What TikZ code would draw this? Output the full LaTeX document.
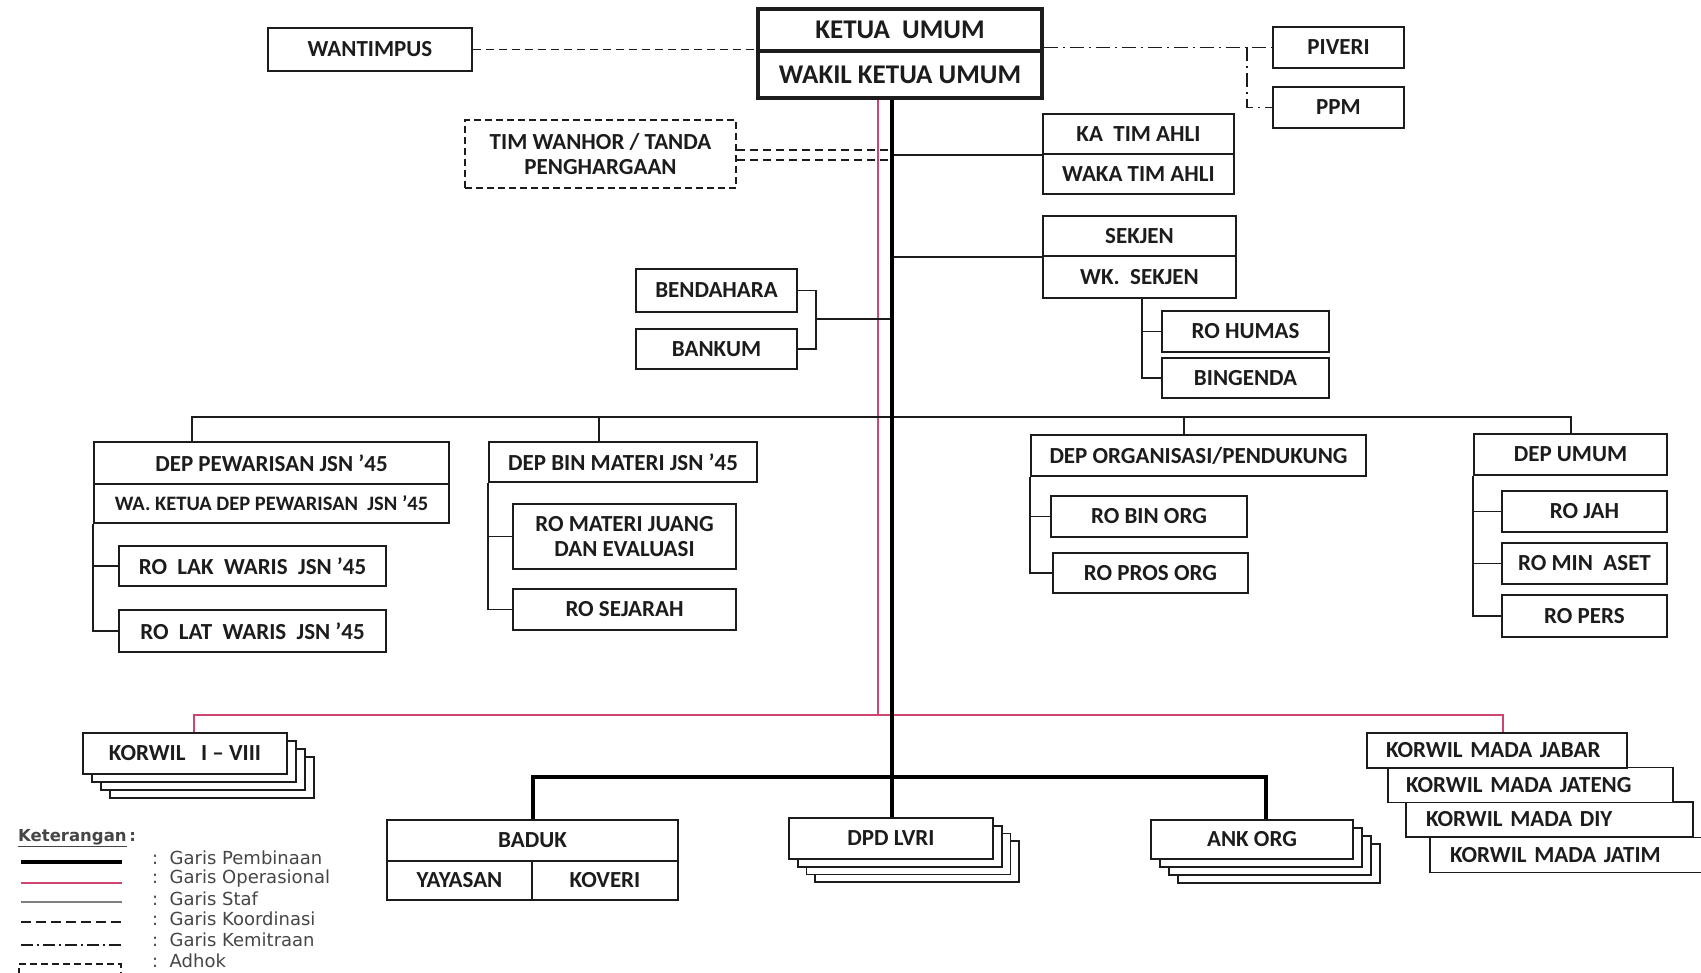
\documentclass[tikz,border=0pt]{standalone}
\usepackage{fontspec}
\setmainfont{Carlito}
\newfontfamily\legendfont{DejaVu Sans}
\usetikzlibrary{calc}
\definecolor{opred}{RGB}{205,70,110}
\definecolor{ink}{RGB}{28,28,28}
\definecolor{legtext}{RGB}{70,70,70}
\begin{document}
\begin{tikzpicture}[x=1pt,y=-1pt,
  box/.style={draw=ink, line width=1.7pt, fill=white, inner sep=0pt, align=center, text=ink,
    font=\bfseries\fontsize{23}{25}\selectfont},
  big/.style={line width=3.4pt, font=\bfseries\fontsize{27}{29}\selectfont},
  small/.style={font=\bfseries\fontsize{20.5}{23}\selectfont},
  sz/.style 2 args={minimum width=#1, minimum height=#2},
  adhok/.style={dash pattern=on 7pt off 4pt},
  staf/.style={draw=ink, line width=1.8pt},
  pemb/.style={draw=black, line width=4.6pt},
  oper/.style={draw=opred, line width=1.9pt},
  koord/.style={draw=ink, line width=1.6pt, dash pattern=on 8pt off 5pt},
  kemit/.style={draw=ink, line width=1.6pt, dash pattern=on 14pt off 5pt on 2pt off 5pt},
  legtxt/.style={anchor=west, inner sep=0pt, text=legtext, font=\legendfont\fontsize{18}{20}\selectfont},
  left box/.style 2 args={box, align=left, inner xsep=#2, text width=#1-2*#2, minimum height=35}
]
\useasboundingbox[fill=white] (0,0) rectangle (1701,973);

% ---------- top ----------
\node[box, sz={204}{43}] (wantimpus) at (370,49.5) {WANTIMPUS};
\node[box, big, sz={284}{42}] (ketua) at (900,30) {KETUA\ \ UMUM};
\node[box, big, sz={284}{47}] (wakil) at (900,74.5) {WAKIL KETUA UMUM};
\node[box, sz={131}{41}] (piveri) at (1338.5,47.5) {PIVERI};
\node[box, sz={131}{41}] (ppm) at (1338.5,107.5) {PPM};
\node[box, adhok, sz={271}{68}] (wanhor) at (600.5,154) {TIM WANHOR / TANDA\\[0pt]PENGHARGAAN};
\node[box, sz={191}{40}] (katim) at (1138.5,134) {KA\ \ TIM AHLI};
\node[box, sz={191}{40}] (wakatim) at (1138.5,174) {WAKA TIM AHLI};
\node[box, sz={193}{40}] (sekjen) at (1139.5,236) {SEKJEN};
\node[box, sz={193}{42}] (wksekjen) at (1139.5,277) {WK.\ \ SEKJEN};
\node[box, sz={161}{43}] (bendahara) at (716.5,290.5) {BENDAHARA};
\node[box, sz={161}{40}] (bankum) at (716.5,349) {BANKUM};
\node[box, sz={167}{41}] (humas) at (1245.5,331.5) {RO HUMAS};
\node[box, sz={167}{40}] (bingenda) at (1245.5,378) {BINGENDA};

% ---------- departments ----------
\node[box, sz={355}{42}] (pew) at (271.5,463) {DEP PEWARISAN JSN ’45};
\node[box, small, sz={355}{39}] (wapew) at (271.5,503.5) {WA. KETUA DEP PEWARISAN\ \ JSN ’45};
\node[box, sz={267}{40}] (rolak) at (252.5,566) {RO\ \ LAK\ \ WARIS\ \ JSN ’45};
\node[box, sz={267}{42}] (rolat) at (252.5,631) {RO\ \ LAT\ \ WARIS\ \ JSN ’45};
\node[box, sz={268}{40}] (binmat) at (623,462) {DEP BIN MATERI JSN ’45};
\node[box, sz={223}{65}] (romateri) at (624.5,536.5) {RO MATERI JUANG\\DAN EVALUASI};
\node[box, sz={223}{41}] (sejarah) at (624.5,609.5) {RO SEJARAH};
\node[box, sz={335}{41}] (deporg) at (1198.5,455.5) {DEP ORGANISASI/PENDUKUNG};
\node[box, sz={196}{41}] (binorg) at (1149,516.5) {RO BIN ORG};
\node[box, sz={195}{40}] (prosorg) at (1150.5,573) {RO PROS ORG};
\node[box, sz={193}{41}] (umum) at (1570.5,454.5) {DEP UMUM};
\node[box, sz={165}{41}] (rojah) at (1584.5,511.5) {RO JAH};
\node[box, sz={165}{41}] (minaset) at (1584.5,563.5) {RO MIN\ \ ASET};
\node[box, sz={165}{42}] (ropers) at (1584.5,616) {RO PERS};

% ---------- korwil I-VIII (stack) ----------
\foreach \k in {3,2,1}
  \node[box, sz={204}{41}] (korwil\k) at ({185+9*\k},{753.5+8*\k}) {};
\node[box, sz={204}{41}] (korwil) at (185,753.5) {KORWIL\ \ \ I -- VIII};

% ---------- korwil mada ----------
\node[left box={275}{20}] (jatim) at (1567.5,855) {KORWIL MADA JATIM};
\node[left box={287}{20}] (diy) at (1549.5,819.5) {KORWIL MADA DIY};
\node[left box={285}{18}] (jateng) at (1530.5,785) {KORWIL MADA JATENG};
\node[left box={260}{19}] (jabar) at (1497,750.5) {KORWIL MADA JABAR};

% ---------- bottom ----------
\node[box, sz={291}{41}] (baduk) at (532.5,840.5) {BADUK};
\node[box, sz={145}{39}] (yayasan) at (459.5,880.5) {YAYASAN};
\node[box, sz={146}{39}] (koveri) at (605,880.5) {KOVERI};
\foreach \k in {3,2,1}
  \node[box, sz={204}{41}] (dpd\k) at ({891+8.7*\k},{838.5+7.7*\k}) {};
\node[box, sz={204}{41}] (dpd) at (891,838.5) {DPD LVRI};
\foreach \k in {3,2,1}
  \node[box, sz={202}{39}] (ank\k) at ({1252+9*\k},{839.5+8*\k}) {};
\node[box, sz={202}{39}] (ank) at (1252,839.5) {ANK ORG};

% ---------- coordinates ----------
\coordinate (sp) at (892,0);      % spine x
\coordinate (rd) at (878,0);      % red line x
\coordinate (opL) at (194,715);
\coordinate (opR) at (1503,715);
\coordinate (busL) at (192,417);
\coordinate (bus2) at (599,417);
\coordinate (bus3) at (1184,417);
\coordinate (busR) at (1571,417);
\coordinate (botL) at (533,777);
\coordinate (botR) at (1266,777);
\coordinate (bk) at (816,319);

% ---------- operational (red) ----------
\draw[oper] (wakil.south -| rd) -- (rd |- opL);
\draw[oper] (korwil.north -| opL) -- (opL) -- (opR) -- (opR |- jabar.north);

% ---------- staff lines ----------
\draw[staf] (katim.south west -| sp) -- (katim.south west);
\draw[staf] (sekjen.south west -| sp) -- (sekjen.south west);
\draw[staf] (bendahara.east) -| (bk) |- (bankum.east);
\draw[staf] (bk) -- (bk -| sp);
\draw[staf] (wksekjen.south -| 1142,0) |- (bingenda.west);
\draw[staf] (humas.west) -- (humas.west -| 1142,0);
% department bus
\draw[staf] (busL |- pew.north) -- (busL) -- (busR) -- (busR |- umum.north);
\draw[staf] (bus2) -- (bus2 |- binmat.north);
\draw[staf] (bus3) -- (bus3 |- deporg.north);
% department brackets
\draw[staf] (wapew.south west) |- (rolat.west);
\draw[staf] (rolak.west) -- (rolak.west -| wapew.south west);
\draw[staf] (binmat.south west) |- (sejarah.west);
\draw[staf] (romateri.west) -- (romateri.west -| binmat.south west);
\draw[staf] (deporg.south west) |- (prosorg.west);
\draw[staf] (binorg.west) -- (binorg.west -| deporg.south west);
\draw[staf] (umum.south west) |- (ropers.west);
\draw[staf] (rojah.west) -- (rojah.west -| umum.south west);
\draw[staf] (minaset.west) -- (minaset.west -| umum.south west);

% ---------- coordination / partnership ----------
\draw[koord] (wantimpus.east) -- (wantimpus.east -| ketua.west);
\draw[koord] ([yshift=4pt]wanhor.east) -- ([yshift=4pt]wanhor.east -| sp);
\draw[koord] ([yshift=-6pt]wanhor.east) -- ([yshift=-6pt]wanhor.east -| sp);
\draw[kemit] (piveri.west -| ketua.east) -- (piveri.west);
\draw[kemit] ([xshift=-25pt]piveri.west) |- (ppm.west);

% ---------- pembinaan (thick black) ----------
\draw[pemb] (wakil.south -| sp) -- (sp |- dpd.north);
\draw[pemb, line join=miter] (botL |- baduk.north) -- (botL) -- (botR) -- (botR |- ank.north);

% ---------- legend ----------
\node[anchor=west, inner sep=0pt, text=legtext, font=\legendfont\bfseries\fontsize{16.5}{19}\selectfont] (ket) at (18,838) {\underline{Keterangan}\,:};
\draw[pemb, line width=3.6pt] (21,862) -- (122,862);
\draw[oper, line width=2.4pt] (21,883) -- (122,883);
\draw[draw=gray, line width=2pt] (21,902) -- (122,902);
\draw[koord, line width=1.8pt, dash pattern=on 10pt off 5pt] (21,922) -- (122,922);
\draw[kemit, line width=1.8pt, dash pattern=on 12pt off 4pt on 2pt off 4pt] (21,945) -- (122,945);
\draw[draw=ink, line width=1.6pt, adhok] (19,975) -- (19,964) -- (121,964) -- (121,975);
\node[legtxt] (l1) at (152,858) {:\ \ Garis Pembinaan};
\node[legtxt] (l2) at (152,879) {:\ \ Garis Operasional};
\node[legtxt] (l3) at (152,899) {:\ \ Garis Staf};
\node[legtxt] (l4) at (152,919) {:\ \ Garis Koordinasi};
\node[legtxt] (l5) at (152,940) {:\ \ Garis Kemitraan};
\node[legtxt] (l6) at (152,961) {:\ \ Adhok};
\end{tikzpicture}
\end{document}
